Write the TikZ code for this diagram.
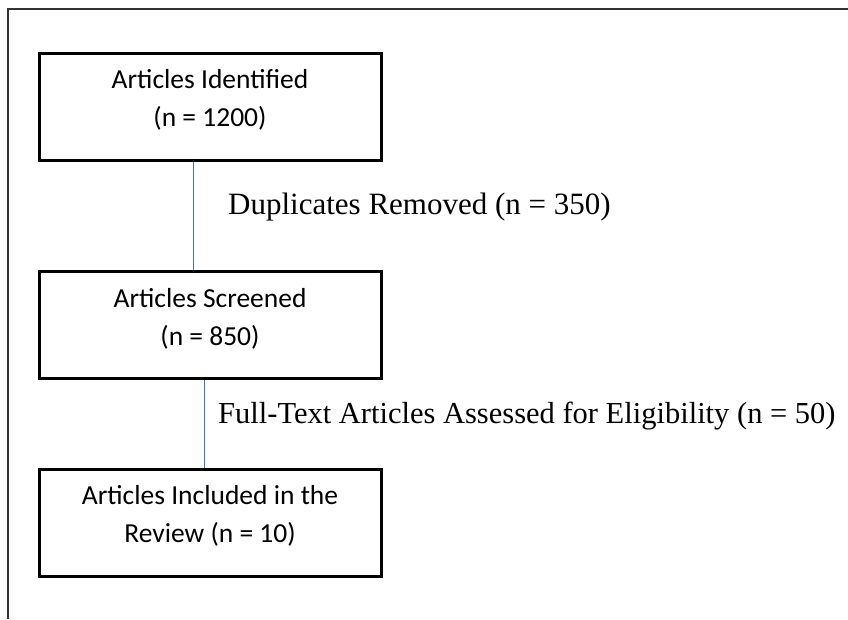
\documentclass[tikz,border=0pt]{standalone}
\usepackage{fontspec}
\setmainfont{Liberation Serif}
\newfontfamily\boxfont{Carlito}
\begin{document}
\begin{tikzpicture}[x=1pt,y=-1pt,
  stepbox/.style={draw=black,line width=3pt,minimum width=342pt,minimum height=107pt,inner sep=0pt},
  boxtext/.style={align=center,font=\boxfont\fontsize{27.5}{38}\selectfont,inner sep=0pt},
  conn/.style={draw={rgb,255:red,68;green,114;blue,196},line width=1pt},
  lbl/.style={anchor=west,inner sep=0pt,font=\fontsize{31}{36}\selectfont},
  frame/.style={draw=black!80,line width=1.3pt}]
\useasboundingbox (0,0) rectangle (848,619);
\draw[frame] (7,9) -- (848,9);
\draw[frame] (8,9) -- (8,619);
\node[stepbox] (b1) at (210,106.5) {};
\node[stepbox] (b2) at (210,325) {};
\node[stepbox] (b3) at (210,522.5) {};
\node[boxtext] (t1) at (210,99.5) {Articles Identified\\(n = 1200)};
\node[boxtext] (t2) at (210,318.5) {Articles Screened\\(n = 850)};
\node[boxtext] (t3) at (210,516) {Articles Included in the\\Review (n = 10)};
\draw[conn] ([xshift=-17pt]b1.south) -- ([xshift=-17pt]b2.north);
\draw[conn] ([xshift=-6pt]b2.south) -- ([xshift=-6pt]b3.north);
\node[lbl] (l1) at (228,207) {Duplicates Removed (n = 350)};
\node[lbl,font=\fontsize{30.5}{36}\selectfont] (l2) at (218,416) {Full-Text Articles Assessed for Eligibility (n = 50)};
\end{tikzpicture}
\end{document}
